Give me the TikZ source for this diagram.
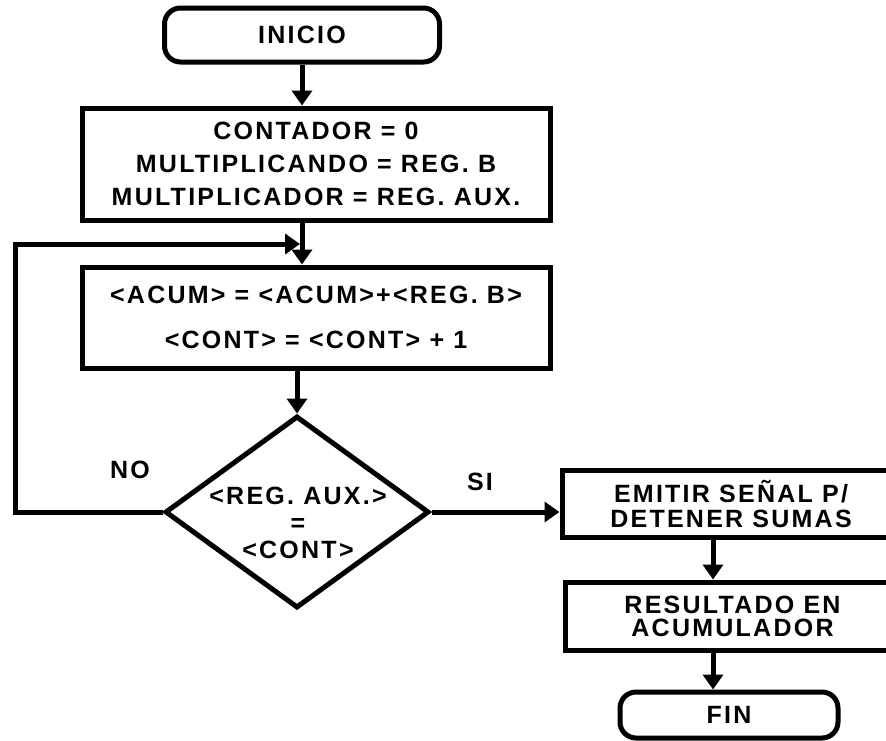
\documentclass[tikz,border=0pt]{standalone}
\usepackage{fontspec}
\newfontfamily\diagfont{Liberation Sans}[LetterSpace=9]
\usetikzlibrary{shapes.geometric,arrows.meta}

\begin{document}
\begin{tikzpicture}[x=1pt,y=-1pt,line width=5pt,
  >={Triangle[width=20pt,length=15pt]},
  lin/.style={font=\diagfont\bfseries\fontsize{25}{#1}\selectfont,align=center},
  lin/.default=27,
  term/.style={draw,rounded corners=16pt,inner sep=0pt},
  caja/.style={draw,inner sep=0pt},
  decision/.style={draw,diamond,inner sep=0pt}]
  \useasboundingbox (0,0) rectangle (886,740);
  \clip (0,0) rectangle (886,740);
  \fill[white] (0,0) rectangle (886,740);

  % main column
  \node[term,lin,minimum width=275,minimum height=54] (ini) at (302,35) {INICIO};
  \node[caja,lin=33,minimum width=468,minimum height=112] (carga) at (316,164)
    {CONTADOR = 0\\MULTIPLICANDO = REG. B\\MULTIPLICADOR = REG. AUX.};
  \node[caja,lin=45,minimum width=468,minimum height=101] (suma) at (316,317.5)
    {<ACUM> = <ACUM>+<REG. B>\\<CONT> = <CONT> + 1};
  \node[decision,minimum width=264,minimum height=192] (dia) at (297,512) {};
  \node[lin=27] (cond) at (298,523) {<REG. AUX.>\\=\\<CONT>};
  \node[lin] (no) at (130,470) {NO};
  \node[lin] (si) at (480,482) {SI};

  % right column
  \node[caja,lin=25,minimum width=338,minimum height=67] (emit) at (731,503.5)
    {EMITIR SEÑAL P/\\DETENER SUMAS};
  \node[caja,lin=23,minimum width=335,minimum height=68] (res) at (732.5,616)
    {RESULTADO EN\\ACUMULADOR};
  \node[term,lin,minimum width=218,minimum height=46] (fin) at (729,715) {FIN};

  \coordinate (colm) at (302,0);
  \coordinate (colb) at (713,0);
  \coordinate (lft) at (15,244);
  \coordinate (merge) at (300,244);

  \draw[->] (ini.south) -- (ini.south |- carga.north);
  \draw[->] (carga.south -| colm) -- (suma.north -| colm);
  \draw[->] (suma.south -| dia.north) -- (dia.north);
  \draw[->] (dia.west) -| (lft) -- (merge);
  \draw[->] (dia.east) -- (dia.east -| emit.west);
  \draw[->] (emit.south -| colb) -- (res.north -| colb);
  \draw[->] (res.south -| colb) -- (fin.north -| colb);
\end{tikzpicture}
\end{document}
